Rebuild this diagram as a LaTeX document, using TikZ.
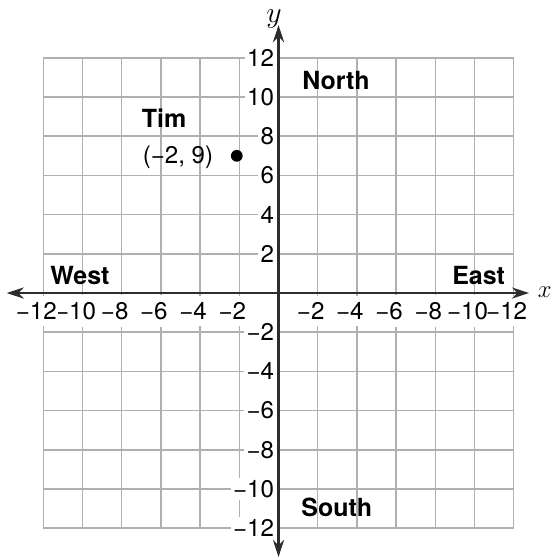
\documentclass[tikz,border=0pt]{standalone}
\usepackage{fontspec}
\setmainfont{TeX Gyre Heros}
\usetikzlibrary{arrows.meta}
\definecolor{gridgray}{RGB}{176,176,176}
\definecolor{axisgray}{RGB}{45,45,45}

\begin{document}
\begin{tikzpicture}[
  x=0.4cm, y=0.4cm,
  gridline/.style={draw=gridgray, line width=0.9pt},
  axisline/.style={draw=axisgray, line width=1.3pt,
                   {Stealth[length=10pt, width=6.5pt]}-{Stealth[length=10pt, width=6.5pt]}},
  xnum/.style={fill=white, inner xsep=1pt, inner ysep=4pt,
               font=\fontsize{14}{16}\selectfont},
  ynum/.style={anchor=east, fill=white, inner sep=1.5pt,
               font=\fontsize{14}{16}\selectfont},
  region/.style={font=\fontsize{14.5}{17}\selectfont\bfseries},
  note/.style={font=\fontsize{14}{16}\selectfont}
]
\useasboundingbox (-14.21,-13.57) rectangle (14.0,14.95);

% Mreza
\draw[gridline] (-12,-12) grid[step=2] (12,12);

% Stevilke na osi x (obe strani z minusom)
\foreach \v in {2,4,...,12}{
  \node[xnum] (xw\v) at (-\v,-0.92) {\llap{−}\v};
  \node[xnum] (xe\v) at (\v,-0.92) {\llap{−}\v};
}

% Stevilke na osi y
\foreach \v in {2,4,...,12}{
  \node[ynum] (yn\v) at (-0.08,\v) {\v};
  \node[ynum] (ys\v) at (-0.08,-\v) {−\v};
}

% Osi
\coordinate (west) at (-13.87,0);
\coordinate (east) at (12.78,0);
\coordinate (north) at (0,13.67);
\coordinate (south) at (0,-13.47);
\draw[axisline] (west) -- (east);
\draw[axisline] (south) -- (north);
\node[font=\fontsize{14}{16}\selectfont] (xname) at (13.58,0.05) {$x$};
\node[font=\fontsize{17}{20}\selectfont] (yname) at (-0.23,13.98) {$y$};

% Smeri neba
\node[region] (lnorth) at (2.93,10.82) {North};
\node[region] (lsouth) at (2.97,-10.92) {South};
\node[region] (lwest) at (-10.13,0.87) {West};
\node[region] (least) at (10.21,0.87) {East};

% Tim
\node[region] (tim) at (-5.84,8.93) {Tim};
\node[note] (timxy) at (-5.13,6.91) {(−2, 9)};
\node[circle, fill=black, inner sep=0pt, minimum size=0.24cm] (timdot) at (-2.13,7.0) {};

\end{tikzpicture}
\end{document}
